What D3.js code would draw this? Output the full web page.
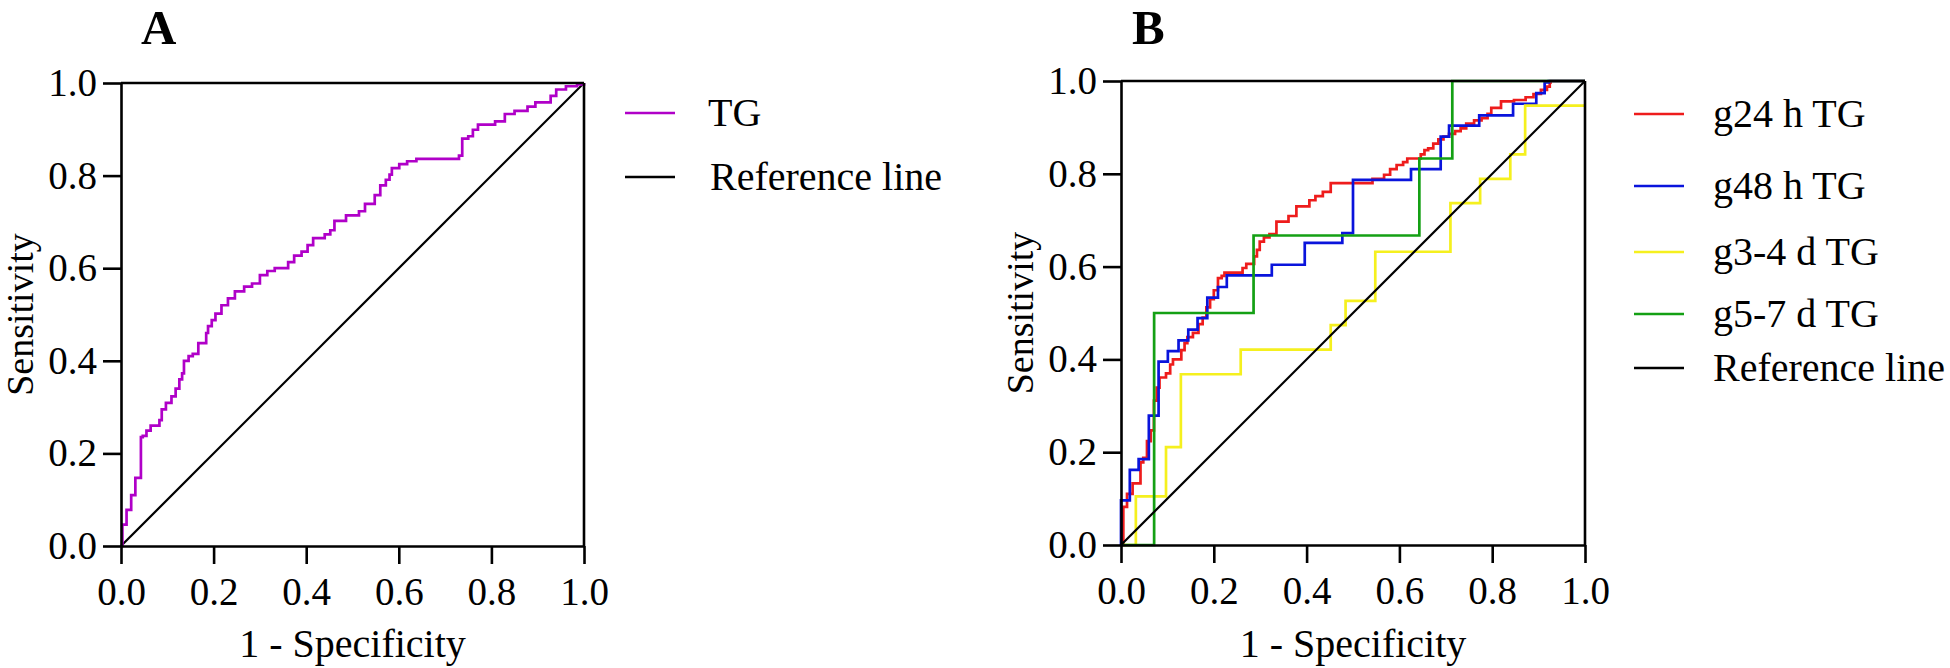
<!DOCTYPE html>
<html>
<head>
<meta charset="utf-8">
<script src="https://cdn.jsdelivr.net/npm/d3@7/dist/d3.min.js"></script>
<style>
  html, body { margin: 0; padding: 0; background: #fff; }
  svg { display: block; }
  text { font-family: "Liberation Serif", "Times New Roman", serif; fill: #000; }
</style>
</head>
<body>
<svg id="chart" width="1950" height="668"></svg>
<script>
// ---------- DATA ----------
const tickValues = [0, 0.2, 0.4, 0.6, 0.8, 1.0];
const xTitle = "1 - Specificity";
const yTitle = "Sensitivity";

// Panel A: TG  [1 - specificity, sensitivity]
const tgA = [[0,0],[0.003,0.046],[0.012,0.078],[0.022,0.110],[0.031,0.147],[0.043,0.235],[0.047,0.238],
  [0.055,0.249],[0.064,0.260],[0.083,0.272],[0.088,0.295],[0.097,0.309],[0.109,0.323],[0.118,0.340],
  [0.126,0.360],[0.132,0.373],[0.136,0.400],[0.146,0.410],[0.155,0.415],[0.167,0.438],[0.184,0.460],
  [0.188,0.475],[0.196,0.488],[0.204,0.502],[0.217,0.520],[0.231,0.535],[0.246,0.550],[0.266,0.560],
  [0.283,0.567],[0.300,0.585],[0.316,0.594],[0.332,0.600],[0.361,0.613],[0.374,0.627],[0.390,0.636],
  [0.403,0.650],[0.415,0.665],[0.440,0.673],[0.452,0.682],[0.461,0.702],[0.486,0.714],[0.514,0.723],
  [0.527,0.739],[0.548,0.758],[0.560,0.779],[0.572,0.791],[0.580,0.802],[0.585,0.816],[0.601,0.825],
  [0.618,0.831],[0.638,0.836],[0.730,0.843],[0.737,0.880],[0.750,0.885],[0.760,0.899],[0.771,0.910],
  [0.808,0.917],[0.829,0.933],[0.850,0.940],[0.878,0.949],[0.895,0.958],[0.928,0.972],[0.940,0.986],
  [0.961,0.993],[0.985,0.997],[1.0,1.0]];

// Panel B series
const g24h = [[0,0],[0.005,0.082],[0.013,0.110],[0.025,0.133],[0.042,0.178],[0.048,0.188],[0.056,0.224],
  [0.064,0.247],[0.071,0.311],[0.077,0.339],[0.083,0.361],[0.097,0.370],[0.106,0.389],[0.112,0.400],
  [0.130,0.420],[0.137,0.435],[0.143,0.448],[0.155,0.457],[0.167,0.476],[0.176,0.490],[0.184,0.512],
  [0.192,0.530],[0.200,0.549],[0.209,0.575],[0.217,0.580],[0.223,0.587],[0.262,0.597],[0.270,0.606],
  [0.287,0.622],[0.293,0.636],[0.299,0.654],[0.308,0.663],[0.320,0.670],[0.335,0.697],[0.361,0.709],
  [0.378,0.730],[0.406,0.743],[0.419,0.752],[0.435,0.761],[0.452,0.780],[0.542,0.789],[0.567,0.798],
  [0.580,0.810],[0.594,0.819],[0.608,0.825],[0.617,0.833],[0.646,0.842],[0.654,0.851],[0.662,0.855],
  [0.673,0.865],[0.684,0.874],[0.695,0.880],[0.707,0.886],[0.720,0.892],[0.732,0.898],[0.744,0.908],
  [0.761,0.915],[0.777,0.920],[0.790,0.929],[0.798,0.942],[0.819,0.956],[0.847,0.959],[0.872,0.965],
  [0.889,0.972],[0.905,0.981],[0.918,0.988],[0.924,0.997],[0.926,1.0],[1.0,1.0]];
const g48h = [[0,0],[0,0.096],[0.019,0.162],[0.038,0.185],[0.060,0.279],[0.081,0.395],[0.101,0.418],
  [0.124,0.441],[0.145,0.464],[0.165,0.489],[0.186,0.533],[0.209,0.556],[0.228,0.581],[0.325,0.604],
  [0.396,0.651],[0.477,0.672],[0.500,0.787],[0.625,0.810],[0.689,0.880],[0.707,0.904],[0.772,0.926],
  [0.845,0.951],[0.895,0.974],[0.913,0.997],[0.922,1.0],[1.0,1.0]];
const g34d = [[0,0],[0.032,0.105],[0.097,0.211],[0.129,0.368],[0.258,0.421],[0.452,0.474],[0.484,0.526],
  [0.548,0.632],[0.710,0.737],[0.774,0.789],[0.839,0.842],[0.871,0.947],[1.0,0.947]];
const g57d = [[0,0],[0.0714,0.5],[0.2857,0.667],[0.643,0.833],[0.714,1.0],[1.0,1.0]];
const refLine = [[0,0],[1,1]];

const legendA = ["TG", "Reference line"];
const legendB = ["g24 h TG", "g48 h TG", "g3-4 d TG", "g5-7 d TG", "Reference line"];

// ---------- DRAW ----------
const svg = d3.select("#chart");

function panel(opts) {
  const { left, top, size, label, labelX, series, legend } = opts;
  const x = d3.scaleLinear().domain([0, 1]).range([left, left + size]);
  const y = d3.scaleLinear().domain([0, 1]).range([top + size, top]);
  const g = svg.append("g");

  // panel letter
  g.append("text").attr("x", labelX).attr("y", 44)
    .attr("font-size", 49).attr("font-weight", "bold").text(label);

  // series
  const stepLine = d3.line().x(d => x(d[0])).y(d => y(d[1])).curve(d3.curveStepAfter);
  const straight = d3.line().x(d => x(d[0])).y(d => y(d[1]));
  series.forEach(s => {
    g.append("path").datum(s.data)
      .attr("d", s.step ? stepLine : straight)
      .attr("fill", "none").attr("stroke", s.color)
      .attr("stroke-width", s.width || 2.7)
      .attr("stroke-linejoin", "miter");
  });

  // axes
  const xAxis = d3.axisBottom(x).tickValues(tickValues).tickFormat(d3.format(".1f"))
    .tickSize(18).tickSizeOuter(0).tickPadding(13);
  const yAxis = d3.axisLeft(y).tickValues(tickValues).tickFormat(d3.format(".1f"))
    .tickSize(18).tickSizeOuter(0).tickPadding(6);
  const gx = g.append("g").attr("transform", `translate(0,${top + size})`).call(xAxis);
  const gy = g.append("g").attr("transform", `translate(${left},0)`).call(yAxis);
  [gx, gy].forEach(a => {
    a.attr("font-family", null);
    a.selectAll("path, line").attr("stroke", "#000").attr("stroke-width", 2.6);
    a.selectAll("text").attr("font-size", 39).attr("fill", "#000");
  });
  // frame top & right
  g.append("line").attr("x1", x(0)).attr("x2", x(1)).attr("y1", y(1)).attr("y2", y(1))
    .attr("stroke", "#000").attr("stroke-width", 2.6);
  g.append("line").attr("x1", x(1)).attr("x2", x(1)).attr("y1", y(0)).attr("y2", y(1))
    .attr("stroke", "#000").attr("stroke-width", 2.6);

  // titles
  g.append("text").attr("x", (x(0) + x(1)) / 2).attr("y", 657)
    .attr("text-anchor", "middle").attr("font-size", 40).text(xTitle);
  g.append("text").attr("transform", `translate(${left - 88},${(y(0) + y(1)) / 2}) rotate(-90)`)
    .attr("text-anchor", "middle").attr("font-size", 38).text(yTitle);

  // legend
  legend.forEach(l => {
    g.append("line").attr("x1", l.x1).attr("x2", l.x1 + 50).attr("y1", l.y).attr("y2", l.y)
      .attr("stroke", l.color).attr("stroke-width", 2.6);
    g.append("text").attr("x", l.tx).attr("y", l.y + 13).attr("font-size", 40).text(l.text);
  });
}

panel({
  left: 121, top: 83, size: 463, label: "A", labelX: 141,
  series: [
    { data: refLine, color: "#000", step: false, width: 2.2 },
    { data: tgA, color: "#b000c8", step: true }
  ],
  legend: [
    { text: legendA[0], color: "#b000c8", y: 113, x1: 625, tx: 708 },
    { text: legendA[1], color: "#000", y: 177, x1: 625, tx: 710 }
  ]
});

const colorsB = ["#ee1c1c", "#0a14dc", "#f5f01e", "#14a014", "#000"];
const legendBY = [114, 186, 252, 314, 368];
panel({
  left: 1121, top: 81, size: 464, label: "B", labelX: 1132,
  series: [
    { data: g24h, color: colorsB[0], step: true },
    { data: g48h, color: colorsB[1], step: true },
    { data: g34d, color: colorsB[2], step: true },
    { data: g57d, color: colorsB[3], step: true },
    { data: refLine, color: colorsB[4], step: false, width: 2.2 }
  ],
  legend: legendB.map((t, i) => ({ text: t, color: colorsB[i], y: legendBY[i], x1: 1634, tx: 1713 }))
});
</script>
</body>
</html>
